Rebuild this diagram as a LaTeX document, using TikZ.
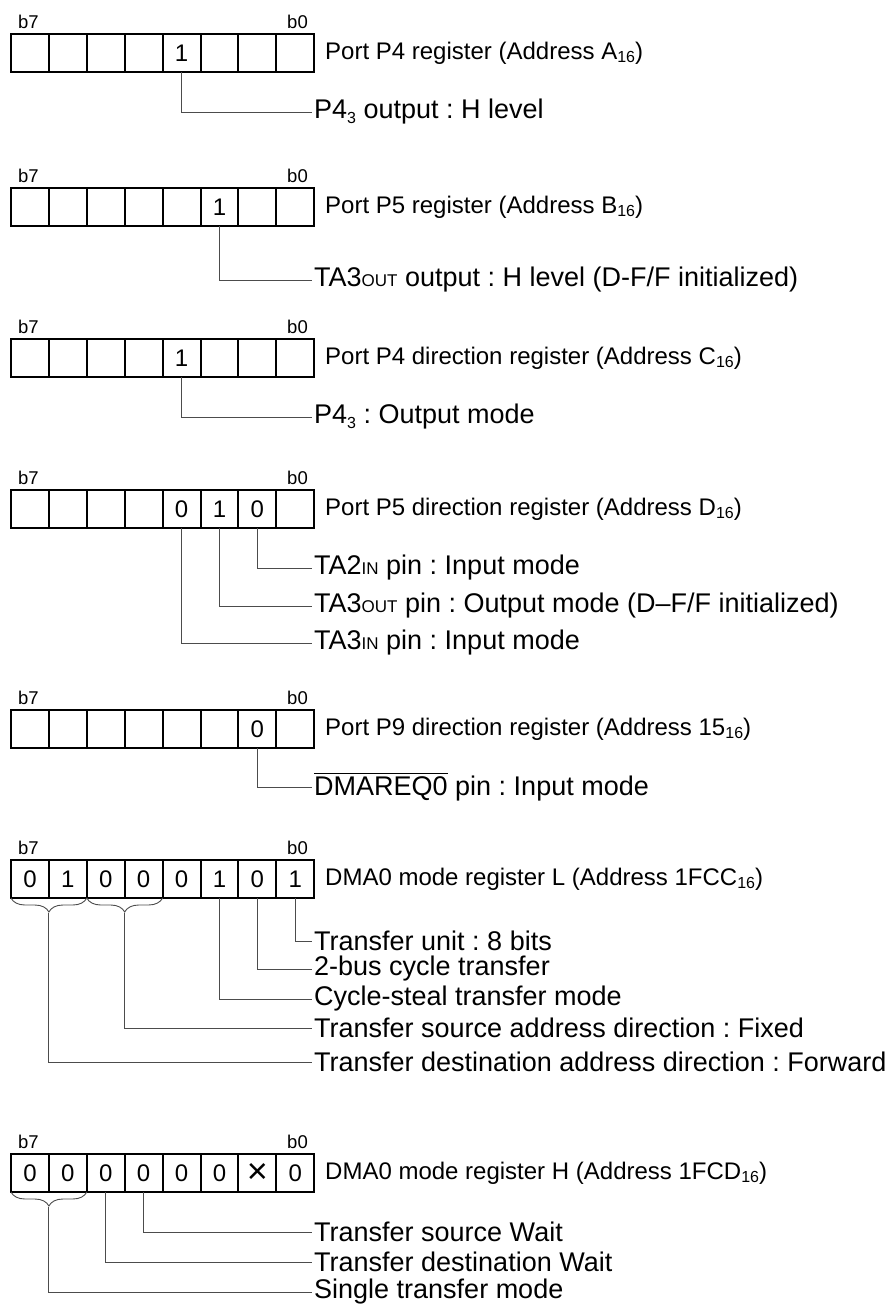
\documentclass[tikz,border=0pt]{standalone}
\usepackage{fontspec}
\setmainfont{Liberation Sans}
\usepackage{tikz}
\usetikzlibrary{positioning, calc, decorations.pathreplacing}

\frenchspacing
\newcommand{\hexsub}[1]{\raisebox{-0.15em}{\fontsize{16}{16}\selectfont #1}}
\newcommand{\lowcap}[1]{{\fontsize{17}{17}\selectfont #1}}
\newcommand{\barsig}[1]{\leavevmode\vbox{\hrule height 0.9pt\kern 3pt\hbox{#1}}}

\begin{document}
\begin{tikzpicture}[x=1pt, y=1pt,
  bitcell/.style={
    draw, line width=2pt, minimum width=37.9pt, minimum height=38pt,
    inner sep=0pt, outer sep=0pt, anchor=north west,
    font=\fontsize{24}{24}\selectfont,
  },
  bitnum/.style={inner sep=0pt, font=\fontsize{18.5}{18.5}\selectfont},
  regname/.style={anchor=west, inner sep=0pt, font=\fontsize{24}{24}\selectfont},
  fieldtxt/.style={anchor=west, inner xsep=2pt, inner ysep=0pt, font=\fontsize{27}{27}\selectfont},
  leader/.style={line width=1pt, black!70},
  grp/.style={decorate, decoration={brace, mirror, amplitude=14pt}, line width=0.9pt, black!70},
]
  \useasboundingbox (0,0) rectangle (888,-1304);

  % Port P4 register
  \foreach \b/\v in {7/{},6/{},5/{},4/{},3/1,2/{},1/{},0/{}}
    \node[bitcell] (pfb\b) at ({11+(7-\b)*37.9},-34) {\v};
  \node[bitnum, anchor=base west] (pfhi) at (18,-28) {b7};
  \node[bitnum, anchor=base east] (pflo) at (308,-28) {b0};
  \node[regname] (pfname) at (325,-53) {Port P4 register (Address A\hexsub{16})};
  \node[fieldtxt] (pff3) at (312,-112) {P4\hexsub{3} output : H level};
  \draw[leader] (pfb3.south) |- (pff3.west);

  % Port P5 register
  \foreach \b/\v in {7/{},6/{},5/{},4/{},3/{},2/1,1/{},0/{}}
    \node[bitcell] (pvb\b) at ({11+(7-\b)*37.9},-188) {\v};
  \node[bitnum, anchor=base west] (pvhi) at (18,-182) {b7};
  \node[bitnum, anchor=base east] (pvlo) at (308,-182) {b0};
  \node[regname] (pvname) at (325,-207) {Port P5 register (Address B\hexsub{16})};
  \node[fieldtxt] (pvf2) at (312,-280) {TA3\lowcap{OUT} output : H level (D-F/F initialized)};
  \draw[leader] (pvb2.south) |- (pvf2.west);

  % Port P4 direction register
  \foreach \b/\v in {7/{},6/{},5/{},4/{},3/1,2/{},1/{},0/{}}
    \node[bitcell] (dfb\b) at ({11+(7-\b)*37.9},-339) {\v};
  \node[bitnum, anchor=base west] (dfhi) at (18,-333) {b7};
  \node[bitnum, anchor=base east] (dflo) at (308,-333) {b0};
  \node[regname] (dfname) at (325,-358) {Port P4 direction register (Address C\hexsub{16})};
  \node[fieldtxt] (dff3) at (312,-417) {P4\hexsub{3} : Output mode};
  \draw[leader] (dfb3.south) |- (dff3.west);

  % Port P5 direction register
  \foreach \b/\v in {7/{},6/{},5/{},4/{},3/0,2/1,1/0,0/{}}
    \node[bitcell] (dvb\b) at ({11+(7-\b)*37.9},-490) {\v};
  \node[bitnum, anchor=base west] (dvhi) at (18,-484) {b7};
  \node[bitnum, anchor=base east] (dvlo) at (308,-484) {b0};
  \node[regname] (dvname) at (325,-509) {Port P5 direction register (Address D\hexsub{16})};
  \node[fieldtxt] (dvf1) at (312,-568) {TA2\lowcap{IN} pin : Input mode};
  \node[fieldtxt] (dvf2) at (312,-606) {TA3\lowcap{OUT} pin : Output mode (D--F/F initialized)};
  \node[fieldtxt] (dvf3) at (312,-643) {TA3\lowcap{IN} pin : Input mode};
  \draw[leader] (dvb1.south) |- (dvf1.west);
  \draw[leader] (dvb2.south) |- (dvf2.west);
  \draw[leader] (dvb3.south) |- (dvf3.west);

  % Port P9 direction register
  \foreach \b/\v in {7/{},6/{},5/{},4/{},3/{},2/{},1/0,0/{}}
    \node[bitcell] (dnb\b) at ({11+(7-\b)*37.9},-710) {\v};
  \node[bitnum, anchor=base west] (dnhi) at (18,-704) {b7};
  \node[bitnum, anchor=base east] (dnlo) at (308,-704) {b0};
  \node[regname] (dnname) at (325,-729) {Port P9 direction register (Address 15\hexsub{16})};
  \node[fieldtxt] (dnf1) at (312,-787) {\barsig{DMAREQ0} pin : Input mode};
  \draw[leader] (dnb1.south) |- (dnf1.west);

  % DMA0 mode register L
  \foreach \b/\v in {7/0,6/1,5/0,4/0,3/0,2/1,1/0,0/1}
    \node[bitcell] (mlb\b) at ({11+(7-\b)*37.9},-860) {\v};
  \node[bitnum, anchor=base west] (mlhi) at (18,-854) {b7};
  \node[bitnum, anchor=base east] (mllo) at (308,-854) {b0};
  \node[regname] (mlname) at (325,-879) {DMA0 mode register L (Address 1FCC\hexsub{16})};
  \node[fieldtxt] (mlf0) at (312,-941) {Transfer unit : 8 bits};
  \node[fieldtxt] (mlf1) at (312,-969) {2-bus cycle transfer};
  \node[fieldtxt] (mlf2) at (312,-999) {Cycle-steal transfer mode};
  \node[fieldtxt] (mlf4) at (312,-1028) {Transfer source address direction : Fixed};
  \node[fieldtxt] (mlf6) at (312,-1062) {Transfer destination address direction : Forward};
  \draw[grp] (mlb7.south west) -- (mlb6.south east);
  \draw[grp] (mlb5.south west) -- (mlb4.south east);
  \coordinate (mlg6) at ($(mlb7.south east)+(0,-15)$);
  \coordinate (mlg4) at ($(mlb5.south east)+(0,-15)$);
  \draw[leader] (mlb0.south) |- (mlf0.west);
  \draw[leader] (mlb1.south) |- (mlf1.west);
  \draw[leader] (mlb2.south) |- (mlf2.west);
  \draw[leader] (mlg4) |- (mlf4.west);
  \draw[leader] (mlg6) |- (mlf6.west);

  % DMA0 mode register H
  \foreach \b/\v in {7/0,6/0,5/0,4/0,3/0,2/0,1/\raisebox{-0.2em}{\scalebox{1.5}{×}},0/0}
    \node[bitcell] (mhb\b) at ({11+(7-\b)*37.9},-1154) {\v};
  \node[bitnum, anchor=base west] (mhhi) at (18,-1148) {b7};
  \node[bitnum, anchor=base east] (mhlo) at (308,-1148) {b0};
  \node[regname] (mhname) at (325,-1173) {DMA0 mode register H (Address 1FCD\hexsub{16})};
  \node[fieldtxt] (mhf4) at (312,-1232) {Transfer source Wait};
  \node[fieldtxt] (mhf5) at (312,-1262) {Transfer destination Wait};
  \node[fieldtxt] (mhf6) at (312,-1292) {Single transfer mode};
  \draw[grp] (mhb7.south west) -- (mhb6.south east);
  \coordinate (mhg6) at ($(mhb7.south east)+(0,-15)$);
  \draw[leader] (mhb4.south) |- (mhf4.west);
  \draw[leader] (mhb5.south) |- (mhf5.west);
  \draw[leader] (mhg6) |- (mhf6.west);
\end{tikzpicture}
\end{document}
